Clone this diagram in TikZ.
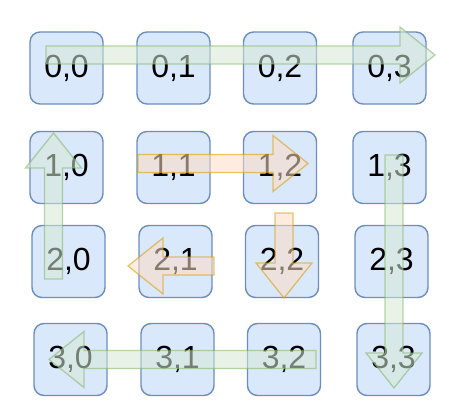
\documentclass[tikz,border=0pt]{standalone}
\usepackage{fontspec}
\setmainfont{Liberation Sans}
\usepackage{tikz}
\usetikzlibrary{calc}

\definecolor{cellfill}{HTML}{DAE8FC}
\definecolor{cellline}{HTML}{6C8EBF}
\definecolor{pathfill}{HTML}{D5E8D4}
\definecolor{pathline}{HTML}{82B366}
\definecolor{turnfill}{HTML}{FBDDC4}
\definecolor{turnline}{HTML}{D79B00}

% style, x, y of tail, angle, length
\newcommand{\flexarrow}[5]{%
    \draw[#1, shift={(#2,#3)}, rotate=#4]
    (0,-9) -- ({#5-35},-9) -- ({#5-35},-28) -- (#5,0)
    -- ({#5-35},28) -- ({#5-35},9) -- (0,9) -- cycle;}

\begin{document}
\begin{tikzpicture}[x=1pt, y=-1pt,
    cell/.style={draw=cellline, fill=cellfill, line width=1.4pt,
        rounded corners=10pt, minimum width=73pt, minimum height=72pt,
        inner sep=0pt, font=\fontsize{32}{36}\selectfont},
    greenpath/.style={draw=pathline, fill=pathfill, line width=1.3pt, opacity=0.55},
    turnpath/.style={draw=turnline, fill=turnfill, line width=1.3pt, opacity=0.55}]
    \useasboundingbox (0,0) rectangle (449,414);
    \foreach \r/\y/\dx in {0/68/0, 1/167.5/0, 2/261.5/2, 3/359.5/4}
        \foreach \c/\x in {0/66.5, 1/173.5, 2/280, 3/389.5}
            \node[cell] (c\r\c) at (\x+\dx,\y) {\r,\c};
    \flexarrow{greenpath}{46}{55}{0}{389}
    \flexarrow{greenpath}{394}{155}{-90}{233}
    \flexarrow{greenpath}{316}{359.5}{180}{267}
    \flexarrow{greenpath}{53.5}{279}{90}{146}
    \flexarrow{turnpath}{138}{163.5}{0}{170}
    \flexarrow{turnpath}{284}{213}{-90}{85}
    \flexarrow{turnpath}{214}{266}{180}{86}
\end{tikzpicture}
\end{document}
